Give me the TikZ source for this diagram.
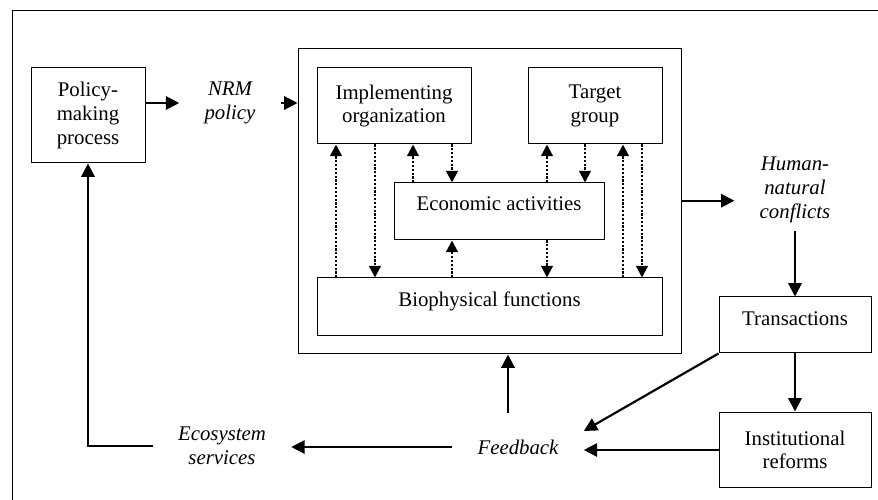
\documentclass[tikz,border=0pt]{standalone}
\usepackage{fontspec}
\setmainfont{Liberation Serif}
\usetikzlibrary{arrows.meta}

\begin{document}
\begin{tikzpicture}[
x=0.6pt,y=-0.6pt,
font=\fontsize{12.5}{14.2}\selectfont,
box/.style={draw,line width=0.6pt,align=center,inner sep=0pt},
term/.style={font=\fontsize{12.5}{14.2}\selectfont\itshape,align=center,inner xsep=15pt,inner ysep=5pt},
arr/.style={line width=1.3pt,-{Triangle[length=8pt,width=8pt]}},
dotarr/.style={line width=1.3pt,densely dotted,-{Triangle[length=7pt,width=7pt]}},
]
\useasboundingbox (0,0) rectangle (878,500);
\draw[line width=0.6pt] (12,500) -- (12,11) -- (878,11);
\node[box,minimum width=68.4pt,minimum height=57pt] (policy) at (88,115.5) {Policy-\\making\\process};
\node[term] (nrm) at (230,103) {NRM\\policy};
\node[box,minimum width=229.8pt,minimum height=183pt] (system) at (489.5,201.5) {};
\node[box,minimum width=92.4pt,minimum height=45.6pt] (impl) at (394,106) {Implementing\\organization};
\node[box,minimum width=80.4pt,minimum height=45.6pt] (target) at (595,106) {Target\\group};
\node[box,minimum width=126pt,minimum height=34.2pt,text depth=10pt] (econ) at (499,211.5) {Economic activities};
\node[box,minimum width=207pt,minimum height=34.8pt,text depth=10pt] (bio) at (489.5,307) {Biophysical functions};
\node[term] (conflicts) at (795,190) {Human-\\natural\\conflicts};
\node[box,minimum width=91.2pt,minimum height=33.6pt,text depth=8pt] (trans) at (795,325) {Transactions};
\node[box,minimum width=91.2pt,minimum height=45.6pt] (inst) at (795,450) {Institutional\\reforms};
\node[term] (feedback) at (518,447) {Feedback};
\node[term] (services) at (222,446) {Ecosystem\\services};
\foreach \x/\a/\b in {336/bio.north/impl.south, 375/impl.south/bio.north,
    413/econ.north/impl.south, 452/impl.south/econ.north,
    547/econ.north/target.south, 585/target.south/econ.north,
    623/bio.north/target.south, 642/target.south/bio.north,
    452/bio.north/econ.south, 547/econ.south/bio.north}
  \draw[dotarr] (\x,0 |- \a) -- (\x,0 |- \b);
\draw[arr] (policy.east |- nrm.west) -- (nrm.west);
\draw[arr] (nrm.east) -- (system.west |- nrm.east);
\draw[arr] (system.east |- conflicts.190) -- (conflicts.190);
\draw[arr] (conflicts.south) -- (trans.north);
\draw[arr] (trans.south) -- (inst.north);
\draw[arr] (trans.south west) -- (feedback.north east);
\draw[arr] (inst.west) -- (feedback.east |- inst.west);
\draw[arr,shorten <=11pt] (508,0 |- feedback.north) -- (508,0 |- system.south);
\draw[arr] (feedback.west) -- (services.east |- feedback.west);
\draw[arr] (services.west) -| (policy.south);
\end{tikzpicture}
\end{document}
